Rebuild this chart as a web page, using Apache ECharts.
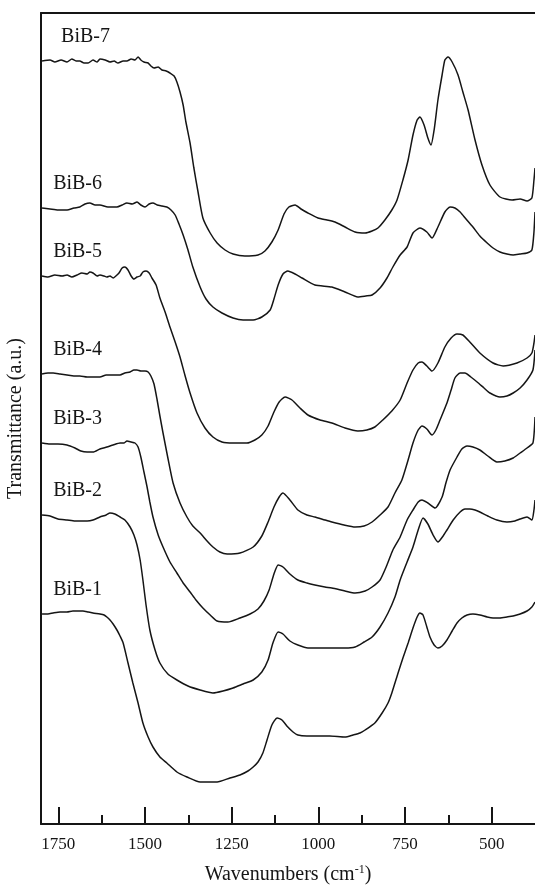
<!DOCTYPE html>
<html>
<head>
<meta charset="utf-8">
<title>BiB FTIR</title>
<script src="https://cdn.jsdelivr.net/npm/echarts@6/dist/echarts.min.js"></script>
<style>
	html, body { margin: 0; padding: 0; background: #fff; }
	#main { width: 535px; height: 885px; }
</style>
</head>
<body>
<div id="main"></div>
<script>
// sample names, bottom to top
var names = ['BiB-1', 'BiB-2', 'BiB-3', 'BiB-4', 'BiB-5', 'BiB-6', 'BiB-7'];

// x tick labels (cm-1)
var majorTicks = [1750, 1500, 1250, 1000, 750, 500];
var minorTicks = [1625, 1375, 1125, 875, 625];

// spectra: [wavenumber, transmittance (a.u., offset stacked)]
var bib1 = [[1797,210],[1780,210],[1765,211],[1745,212],[1725,212],[1708,213],[1693,213],[1679,213],[1664,212],[1650,211],[1630,210],[1618,209],[1610,207],[1601,204],[1592,200],[1581,194],[1572,188],[1563,181],[1549,161],[1535,141],[1520,121],[1506,101],[1491,87],[1477,77],[1457,67],[1437,61],[1408,52],[1379,47],[1341,42],[1312,42],[1292,42],[1255,46],[1226,49],[1203,53],[1188,57],[1174,62],[1160,71],[1148,84],[1134,99],[1119,106],[1105,104],[1088,97],[1073,92],[1059,89],[1033,88],[1010,88],[967,88],[923,87],[900,89],[880,91],[865,94],[837,101],[816,111],[799,121],[788,131],[770,151],[756,166],[741,181],[727,196],[715,207],[707,211],[698,209],[687,197],[678,187],[666,179],[655,176],[643,178],[629,184],[614,193],[600,201],[586,206],[571,209],[554,210],[534,209],[513,207],[496,206],[476,206],[456,207],[438,208],[418,210],[398,213],[384,217],[375,222]];
var bib2 = [[1797,309],[1774,308],[1751,305],[1725,304],[1702,303],[1667,303],[1650,304],[1630,307],[1612,309],[1601,311],[1587,310],[1572,307],[1558,304],[1543,297],[1532,289],[1523,279],[1514,264],[1506,244],[1497,219],[1486,194],[1471,174],[1457,161],[1434,150],[1408,144],[1376,138],[1341,134],[1304,131],[1275,133],[1246,136],[1217,140],[1188,144],[1163,152],[1145,164],[1131,181],[1116,192],[1102,190],[1082,183],[1059,179],[1030,176],[995,176],[961,176],[923,176],[894,177],[868,182],[845,187],[822,197],[799,211],[779,227],[764,244],[744,262],[727,277],[712,294],[698,306],[684,300],[669,289],[655,282],[640,288],[629,294],[611,304],[591,312],[577,315],[563,315],[548,314],[534,312],[511,308],[485,304],[456,302],[433,303],[418,305],[398,307],[384,304],[378,314],[375,324]];
var bib3 = [[1797,381],[1774,380],[1751,380],[1725,379],[1702,376],[1685,373],[1667,372],[1650,372],[1630,375],[1610,377],[1592,379],[1572,381],[1561,381],[1552,383],[1540,382],[1529,381],[1520,377],[1512,367],[1503,352],[1494,337],[1486,322],[1477,307],[1462,289],[1448,277],[1428,262],[1408,251],[1390,241],[1370,232],[1353,224],[1333,216],[1312,209],[1292,203],[1261,202],[1226,206],[1197,210],[1174,215],[1157,223],[1142,234],[1128,250],[1116,259],[1102,257],[1082,250],[1059,244],[1033,241],[1010,239],[981,237],[961,236],[923,233],[894,231],[865,233],[845,237],[822,244],[802,259],[785,274],[764,287],[744,304],[727,314],[712,322],[701,324],[684,321],[663,316],[643,327],[632,341],[620,354],[600,367],[586,375],[571,378],[554,377],[534,374],[511,368],[485,362],[462,363],[438,366],[418,371],[398,376],[381,381],[375,407]];
var bib4 = [[1797,450],[1780,451],[1765,451],[1745,450],[1725,449],[1705,448],[1688,448],[1667,447],[1650,447],[1630,447],[1612,449],[1592,449],[1572,449],[1558,451],[1543,452],[1532,454],[1523,454],[1512,453],[1500,453],[1491,452],[1483,448],[1474,440],[1465,424],[1457,408],[1448,391],[1434,366],[1419,341],[1399,321],[1379,307],[1362,298],[1341,291],[1321,283],[1304,277],[1284,272],[1263,270],[1226,271],[1188,277],[1163,288],[1145,302],[1128,317],[1113,327],[1102,331],[1082,324],[1059,314],[1033,309],[1010,307],[981,304],[961,302],[926,299],[894,297],[868,298],[845,302],[822,309],[799,317],[779,331],[759,344],[741,364],[727,381],[712,394],[701,398],[687,395],[672,389],[661,394],[649,404],[629,421],[617,434],[606,446],[591,451],[577,451],[560,447],[542,442],[522,436],[505,431],[476,427],[456,428],[438,431],[418,436],[398,444],[381,454],[375,474]];
var bib5 = [[1797,548],[1780,547],[1760,549],[1739,548],[1725,549],[1711,547],[1696,549],[1682,551],[1667,550],[1659,552],[1650,551],[1638,548],[1630,549],[1618,548],[1610,547],[1601,548],[1592,546],[1584,548],[1575,551],[1566,556],[1558,557],[1549,554],[1540,548],[1532,545],[1523,547],[1514,548],[1506,552],[1497,553],[1488,551],[1480,546],[1468,539],[1457,526],[1442,512],[1428,497],[1413,482],[1399,467],[1385,449],[1370,431],[1350,411],[1327,396],[1304,387],[1278,382],[1246,381],[1206,381],[1183,384],[1163,389],[1145,398],[1128,412],[1113,422],[1096,427],[1076,424],[1053,416],[1030,409],[995,404],[961,401],[923,396],[886,393],[860,394],[837,397],[814,404],[788,413],[764,424],[744,441],[727,454],[712,461],[701,462],[687,458],[672,453],[655,461],[635,477],[617,486],[600,490],[583,489],[563,482],[534,471],[496,461],[467,458],[427,461],[398,466],[384,471],[378,481],[375,489]];
var bib6 = [[1797,616],[1774,615],[1751,614],[1725,614],[1705,616],[1688,617],[1673,620],[1659,621],[1644,619],[1630,619],[1607,617],[1581,617],[1566,619],[1552,621],[1537,620],[1523,622],[1512,619],[1500,617],[1488,620],[1477,621],[1465,619],[1451,618],[1437,617],[1425,614],[1413,609],[1402,600],[1390,589],[1376,574],[1362,557],[1341,537],[1324,525],[1304,517],[1278,511],[1246,506],[1217,504],[1188,504],[1163,507],[1139,514],[1128,525],[1116,539],[1102,550],[1088,553],[1067,550],[1047,546],[1010,539],[961,537],[923,532],[886,527],[863,528],[845,529],[822,536],[802,546],[785,557],[764,569],[744,577],[727,591],[707,596],[687,592],[672,586],[655,597],[635,612],[620,617],[606,616],[591,612],[574,605],[554,597],[534,588],[513,581],[496,576],[476,572],[456,570],[438,569],[418,570],[398,571],[384,574],[378,592],[375,612]];
var bib7 = [[1797,763],[1774,764],[1760,762],[1742,764],[1725,762],[1711,765],[1699,763],[1688,763],[1676,761],[1664,761],[1650,764],[1638,762],[1630,765],[1615,764],[1601,762],[1589,763],[1578,761],[1563,763],[1552,763],[1540,765],[1529,764],[1520,767],[1512,764],[1503,762],[1491,761],[1483,758],[1474,756],[1462,757],[1451,754],[1439,753],[1428,751],[1416,748],[1408,742],[1399,732],[1390,719],[1382,702],[1370,681],[1359,656],[1347,632],[1333,606],[1312,591],[1292,581],[1269,574],[1246,570],[1212,568],[1174,569],[1154,573],[1134,582],[1116,594],[1099,610],[1085,617],[1067,619],[1050,615],[1030,611],[1001,606],[975,604],[952,602],[923,597],[894,592],[865,591],[845,593],[828,596],[808,604],[788,614],[773,624],[756,644],[741,664],[727,689],[715,704],[707,707],[695,699],[684,686],[675,679],[666,694],[655,724],[643,749],[635,764],[626,767],[614,762],[597,749],[583,732],[568,714],[548,684],[528,659],[505,639],[476,627],[441,624],[418,625],[398,623],[384,626],[378,644],[375,656]];

var spectra = [bib1, bib2, bib3, bib4, bib5, bib6, bib7];

var serif = '"Liberation Serif", "DejaVu Serif", serif';
var ink = '#151515';

function buildSeries() {
	var list = [];
	for (var i = 0; i < spectra.length; i++) {
		var first = spectra[i][0];
		// BiB-7 label sits a little further right
		var labelX = i === 6 ? 1742 : 1765;
		list.push({
			name: names[i],
			type: 'line',
			data: spectra[i],
			showSymbol: false,
			smooth: 0.2,
			silent: true,
			lineStyle: { color: ink, width: 1.5 },
			markPoint: {
				symbol: 'circle',
				symbolSize: 0,
				silent: true,
				data: [{ coord: [labelX, first[1] + 24] }],
				label: {
					show: true,
					position: 'right',
					distance: 0,
					formatter: names[i],
					fontFamily: serif,
					fontSize: 20,
					color: ink
				}
			}
		});
	}
	return list;
}

function initEcharts() {
	var myChart = echarts.init(document.getElementById('main'));
	var option = {
		animation: false,
		backgroundColor: '#fff',
		// keep the plot box fixed, do not shrink it to fit labels
		grid: { left: 41, right: 0, top: 13, bottom: 61, containLabel: false, outerBoundsMode: 'none' },
		xAxis: [{
			type: 'value',
			inverse: true,
			min: 375,
			max: 1800,
			position: 'bottom',
			axisLine: { show: true, lineStyle: { color: ink, width: 2 } },
			axisTick: { show: true, inside: true, length: 17, customValues: majorTicks, lineStyle: { color: ink, width: 2 } },
			axisLabel: {
				customValues: majorTicks,
				formatter: function(v) { return String(v); },
				fontFamily: serif,
				fontSize: 17,
				color: ink,
				margin: 12
			},
			splitLine: { show: false },
			name: 'Wavenumbers (cm{sup|-1})',
			nameLocation: 'middle',
			nameGap: 40,
			nameTextStyle: {
				fontFamily: serif,
				fontSize: 20,
				color: ink,
				rich: { sup: { fontFamily: serif, fontSize: 12, color: ink, padding: [0, 0, 9, 0] } }
			}
		}, {
			// minor ticks
			type: 'value',
			inverse: true,
			min: 375,
			max: 1800,
			position: 'bottom',
			axisLine: { show: false },
			axisTick: { show: true, inside: true, length: 9, customValues: minorTicks, lineStyle: { color: ink, width: 2 } },
			axisLabel: { show: false },
			splitLine: { show: false }
		}, {
			// top frame line
			type: 'value',
			inverse: true,
			min: 375,
			max: 1800,
			position: 'top',
			axisLine: { show: true, lineStyle: { color: ink, width: 2 } },
			axisTick: { show: false },
			axisLabel: { show: false },
			splitLine: { show: false }
		}],
		yAxis: {
			type: 'value',
			min: 0,
			max: 811,
			axisLine: { show: true, lineStyle: { color: ink, width: 2 } },
			axisTick: { show: false },
			axisLabel: { show: false },
			splitLine: { show: false },
			name: 'Transmittance (a.u.)',
			nameLocation: 'middle',
			nameGap: 15,
			nameTextStyle: { fontFamily: serif, fontSize: 20, color: ink }
		},
		series: buildSeries()
	};
	myChart.setOption(option);
}

initEcharts();
</script>
</body>
</html>
